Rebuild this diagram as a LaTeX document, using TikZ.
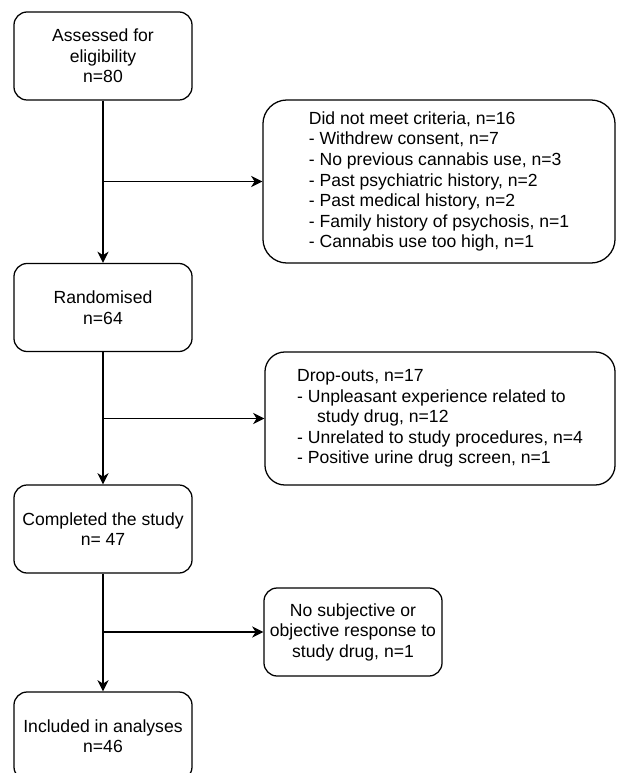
\documentclass[tikz,border=0pt]{standalone}
\usepackage{fontspec}
\setmainfont{Liberation Sans}
\usetikzlibrary{arrows.meta}

\tikzset{
  box/.style={draw, rounded corners=0.33cm, line width=0.9pt, minimum width=4.45cm,
    minimum height=2.2cm, align=center, inner sep=2pt,
    font=\fontsize{12.5}{14.6}\selectfont},
  sidebox/.style={box, align=left},
  flow/.style={line width=0.9pt, -{Stealth[length=8pt,width=8pt,inset=2.5pt]}}
}

\begin{document}
\begin{tikzpicture}[x=0.025cm,y=-0.025cm]
  \useasboundingbox (0,0) rectangle (617,773);

  \node[box] (assess) at (103,56) {Assessed for\\eligibility\\n=80};
  \node[sidebox, minimum width=8.8cm, minimum height=4.075cm, rounded corners=0.6cm] (excl) at (439,181.5)
    {Did not meet criteria, n=16\\
     - Withdrew consent, n=7\\
     - No previous cannabis use, n=3\\
     - Past psychiatric history, n=2\\
     - Past medical history, n=2\\
     - Family history of psychosis, n=1\\
     - Cannabis use too high, n=1};

  \node[box] (random) at (103,307.5) {Randomised\\n=64};
  \node[sidebox, minimum width=8.75cm, minimum height=3.325cm, rounded corners=0.5cm] (drop) at (440,418.5)
    {Drop-outs, n=17\\
     - Unpleasant experience related to\\
     \hspace*{0.5cm}study drug, n=12\\
     - Unrelated to study procedures, n=4\\
     - Positive urine drug screen, n=1};

  \node[box] (complete) at (103,529) {Completed the study\\n= 47};
  \node[box] (noresp) at (353,632) {No subjective or\\objective response to\\study drug, n=1};

  \node[box] (included) at (103,736) {Included in analyses\\n=46};

  \draw[flow] (assess) -- (random);
  \draw[flow] (excl -| assess) -- (excl);
  \draw[flow] (random) -- (complete);
  \draw[flow] (drop -| random) -- (drop);
  \draw[flow] (complete) -- (included);
  \draw[flow] (noresp -| complete) -- (noresp);
\end{tikzpicture}
\end{document}
